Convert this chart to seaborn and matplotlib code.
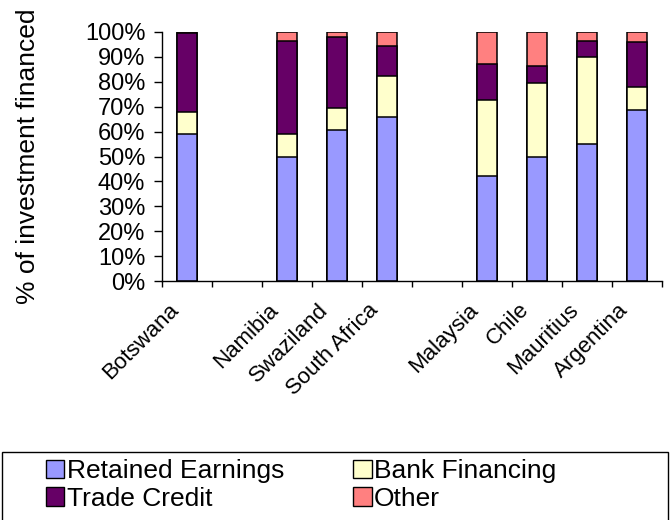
import matplotlib
matplotlib.use("Agg")
import matplotlib.pyplot as plt
import matplotlib.patches as mpatches
from matplotlib.transforms import ScaledTranslation
from matplotlib.ticker import PercentFormatter
import seaborn as sns
import pandas as pd

# slots on the x axis, two empty ones separate the country groups
slots = ["Botswana", "gap1", "Namibia", "Swaziland", "South Africa", "gap2",
         "Malaysia", "Chile", "Mauritius", "Argentina"]
tick_labels = ["Botswana", "", "Namibia", "Swaziland", "South Africa", "",
               "Malaysia", "Chile", "Mauritius", "Argentina"]

countries = ["Botswana", "Namibia", "Swaziland", "South Africa",
             "Malaysia", "Chile", "Mauritius", "Argentina"]
retained = [59.0, 50.0, 60.5, 66.0, 42.3, 50.0, 55.0, 68.8]
bank = [9.0, 9.0, 9.0, 16.5, 30.3, 29.7, 35.0, 9.3]
trade = [31.5, 37.3, 28.3, 12.0, 14.5, 6.8, 6.2, 18.0]
other = [0.5, 3.7, 2.2, 5.5, 12.9, 13.5, 3.8, 3.9]

series = ["Retained Earnings", "Bank Financing", "Trade Credit", "Other"]
colors = ["#9999FF", "#FFFFCC", "#660066", "#FF8080"]

df = pd.DataFrame({"country": countries, "Retained Earnings": retained,
                   "Bank Financing": bank, "Trade Credit": trade, "Other": other})
# cumulative tops for stacking
df["top1"] = df["Retained Earnings"]
df["top2"] = df["top1"] + df["Bank Financing"]
df["top3"] = df["top2"] + df["Trade Credit"]
df["top4"] = df["top3"] + df["Other"]

sns.set_style("ticks")
plt.rcParams["font.family"] = ["Liberation Sans", "DejaVu Sans"]
plt.rcParams["text.color"] = "black"
plt.rcParams["axes.labelcolor"] = "black"
plt.rcParams["xtick.color"] = "black"
plt.rcParams["ytick.color"] = "black"

fig = plt.figure(figsize=(6.7, 5.2), dpi=100)
ax = fig.add_axes([162 / 670, 1 - 281 / 520, 500 / 670, 249 / 520])

# draw tallest first so lower segments sit on top
for col, color in zip(["top4", "top3", "top2", "top1"], colors[::-1]):
    sns.barplot(data=df, x="country", y=col, order=slots, color=color,
                saturation=1, edgecolor="black", linewidth=1.1, width=0.4,
                errorbar=None, ax=ax)

ax.set_xlim(-0.5, len(slots) - 0.5)
ax.set_ylim(0, 100)
ax.set_xlabel("")
ax.set_ylabel("% of investment financed", fontsize=19)
ax.yaxis.set_label_coords((40 - 162) / 500, 0.5)

ax.set_yticks(range(0, 101, 10))
ax.yaxis.set_major_formatter(PercentFormatter(decimals=0))
ax.tick_params(axis="y", length=6, width=1, pad=6, labelsize=17)

ax.set_xticks(range(len(slots)))
ax.set_xticks([i - 0.5 for i in range(len(slots) + 1)], minor=True)
ax.tick_params(axis="x", which="major", length=0, pad=18.5, labelsize=16)
ax.tick_params(axis="x", which="minor", length=4.5, width=1)
ax.set_xticklabels(tick_labels, rotation=45, ha="right", va="center",
                   rotation_mode="anchor")
shift = ScaledTranslation(-11.5 / 100, 0, fig.dpi_scale_trans)
for lbl in ax.get_xticklabels():
    lbl.set_transform(lbl.get_transform() + shift)

for s in ["top", "right"]:
    ax.spines[s].set_visible(False)
for s in ["left", "bottom"]:
    ax.spines[s].set_color("black")
    ax.spines[s].set_linewidth(1)

# legend: column-major order gives rows RE/BF and TC/Other
order = [0, 2, 1, 3]
handles = [mpatches.Patch(facecolor=colors[i], edgecolor="black", linewidth=1,
                          label=series[i]) for i in order]
fig.legend(handles=handles, ncol=2, loc="upper left",
           bbox_to_anchor=(46 / 670, 1 - 459 / 520), frameon=False,
           fontsize=19, handlelength=0.7, handleheight=0.7, handletextpad=0.1,
           columnspacing=2.6, labelspacing=0.15, borderpad=0, borderaxespad=0)
fig.patches.append(mpatches.Rectangle((2 / 670, -0.1), 666 / 670, 0.1 + (520 - 452) / 520,
                                      transform=fig.transFigure, fill=False,
                                      edgecolor="black", linewidth=1))

fig.savefig("out.png", dpi=100)
